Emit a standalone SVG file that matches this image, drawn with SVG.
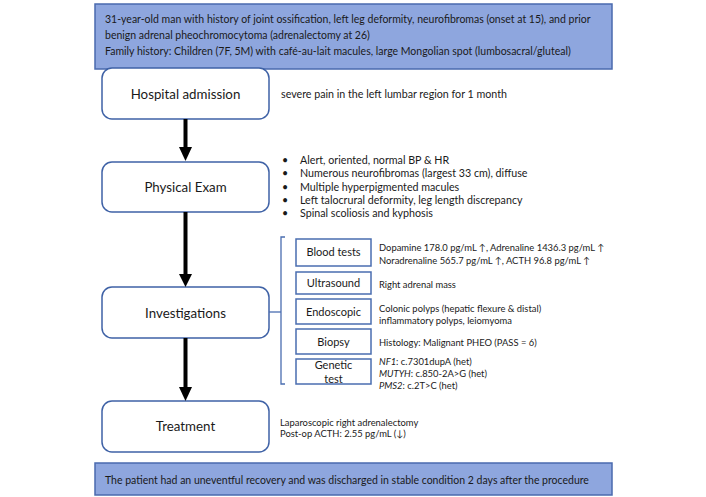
<svg xmlns="http://www.w3.org/2000/svg" width="706" height="497" viewBox="0 0 706 497">
<style>
text{font-family:Lato,"Liberation Sans","DejaVu Sans",sans-serif;fill:#1a1a1a}
.band{fill:#8EA6DE;stroke:#4A6AAE;stroke-width:1.5}
.bt{font-size:10.5px}
.node{fill:#fff;stroke:#3F62A6;stroke-width:1.5}
.nl{font-size:13.3px;text-anchor:middle}
.sub{fill:#fff;stroke:#4A6DB0;stroke-width:1.5}
.sl{font-size:11px;text-anchor:middle}
.st{font-size:9.4px}
.bl{font-size:10.7px}
.arr{stroke:#000;stroke-width:4}
.head{fill:#000}
.brk{fill:none;stroke:#4A6DB0;stroke-width:1.3}
</style>
<g id="history">
<rect class="band" x="95" y="4" width="517" height="65"/>
<text class="bt" x="105" y="23">31-year-old man with history of joint ossification, left leg deformity, neurofibromas (onset at 15), and prior</text>
<text class="bt" x="105" y="39">benign adrenal pheochromocytoma (adrenalectomy at 26)</text>
<text class="bt" x="105" y="55">Family history: Children (7F, 5M) with café-au-lait macules, large Mongolian spot (lumbosacral/gluteal)</text>
</g>
<g id="admission">
<rect class="node" x="102" y="68" width="167" height="51" rx="10"/>
<text class="nl" x="185.5" y="99">Hospital admission</text>
<text class="bl" x="281" y="98">severe pain in the left lumbar region for 1 month</text>
</g>
<g id="exam">
<rect class="node" x="102" y="162" width="167" height="50" rx="10"/>
<text class="nl" x="185.5" y="192">Physical Exam</text>
<g class="bl">
<text x="282" y="164">•</text><text x="300" y="164">Alert, oriented, normal BP &amp; HR</text>
<text x="282" y="177.3">•</text><text x="300" y="177.3">Numerous neurofibromas (largest 33 cm), diffuse</text>
<text x="282" y="190.7">•</text><text x="300" y="190.7">Multiple hyperpigmented macules</text>
<text x="282" y="204">•</text><text x="300" y="204">Left talocrural deformity, leg length discrepancy</text>
<text x="282" y="217.3">•</text><text x="300" y="217.3">Spinal scoliosis and kyphosis</text>
</g>
</g>
<g id="investigations">
<rect class="node" x="102" y="287" width="167" height="51" rx="10"/>
<text class="nl" x="185.5" y="318">Investigations</text>
</g>
<g id="blood">
<rect class="sub" x="296" y="239" width="75" height="27"/>
<text class="sl" x="333.5" y="256">Blood tests</text>
<text class="st" x="379" y="250.5">Dopamine 178.0 pg/mL ↑, Adrenaline 1436.3 pg/mL ↑</text>
<text class="st" x="379" y="263.5">Noradrenaline 565.7 pg/mL ↑, ACTH 96.8 pg/mL ↑</text>
</g>
<g id="ultrasound">
<rect class="sub" x="296" y="272" width="75" height="22"/>
<text class="sl" x="333.5" y="287">Ultrasound</text>
<text class="st" x="379" y="287.5">Right adrenal mass</text>
</g>
<g id="endoscopic">
<rect class="sub" x="296" y="299" width="75" height="25"/>
<text class="sl" x="333.5" y="315.5">Endoscopic</text>
<text class="st" x="379" y="311.5">Colonic polyps (hepatic flexure &amp; distal)</text>
<text class="st" x="379" y="323.5">inflammatory polyps, leiomyoma</text>
</g>
<g id="biopsy">
<rect class="sub" x="296" y="329" width="75" height="25"/>
<text class="sl" x="333.5" y="345.5">Biopsy</text>
<text class="st" x="379" y="345.5">Histology: Malignant PHEO (PASS = 6)</text>
</g>
<g id="genetic">
<rect class="sub" x="296" y="359" width="75" height="25"/>
<text class="sl" x="333.5" y="369">Genetic</text>
<text class="sl" x="333.5" y="383">test</text>
<text class="st" x="379" y="364.5"><tspan font-style="italic">NF1</tspan>: c.7301dupA (het)</text>
<text class="st" x="379" y="376.5"><tspan font-style="italic">MUTYH</tspan>: c.850-2A&gt;G (het)</text>
<text class="st" x="379" y="388.5"><tspan font-style="italic">PMS2</tspan>: c.2T&gt;C (het)</text>
</g>
<g id="treatment">
<rect class="node" x="102" y="401" width="167" height="51" rx="10"/>
<text class="nl" x="185.5" y="431">Treatment</text>
<text class="st" x="280" y="425.5">Laparoscopic right adrenalectomy</text>
<text class="st" x="280" y="436.5">Post-op ACTH: 2.55 pg/mL (↓)</text>
</g>
<g id="outcome">
<rect class="band" x="95" y="463" width="517" height="32"/>
<text class="bt" x="105" y="484">The patient had an uneventful recovery and was discharged in stable condition 2 days after the procedure</text>
</g>
<g id="connectors">
<line class="arr" x1="185.5" y1="119" x2="185.5" y2="149"/>
<polygon class="head" points="179,147 192,147 185.5,161"/>
<line class="arr" x1="185.5" y1="212" x2="185.5" y2="276"/>
<polygon class="head" points="179,274 192,274 185.5,287"/>
<line class="arr" x1="185.5" y1="338" x2="185.5" y2="389"/>
<polygon class="head" points="179,387 192,387 185.5,401"/>
<path class="brk" d="M285 237 H281 V384 H285"/>
<line class="brk" x1="269" y1="312" x2="281" y2="312"/>
</g>
</svg>
